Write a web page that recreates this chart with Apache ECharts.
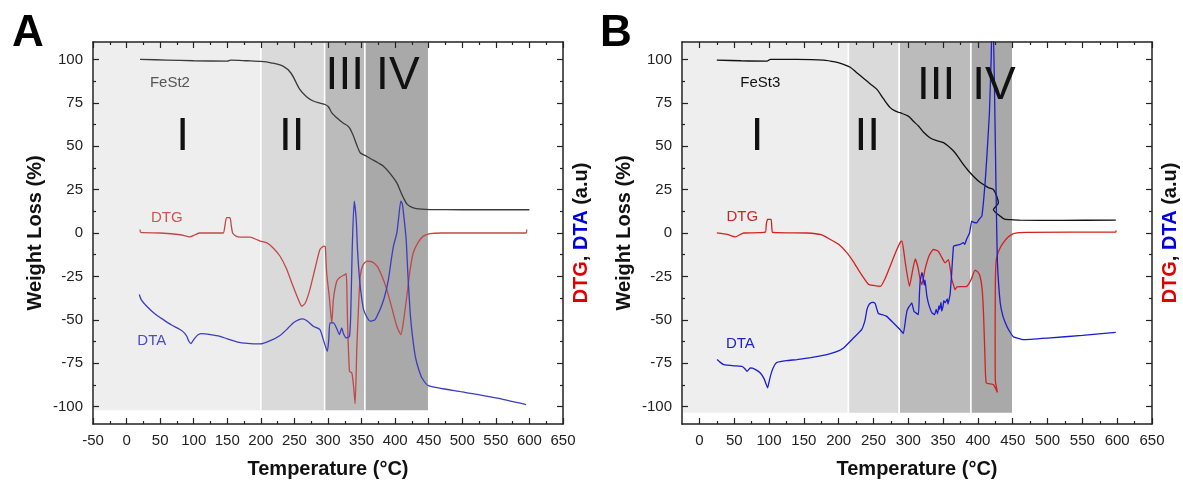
<!DOCTYPE html>
<html><head><meta charset="utf-8">
<script src="https://cdn.jsdelivr.net/npm/echarts@6/dist/echarts.min.js"></script>
<style>html,body{margin:0;padding:0;background:#fff}#c{width:1183px;height:482px}</style>
</head><body><div id="c"></div>
<script>
const FONT = '"Liberation Sans", Arial, sans-serif';

// ---------- Panel A (FeSt2): [temperature °C, value] ----------
const fest2TG = [[20,100],[60,99.6],[100,99.2],[150,99],[155,99.6],[180,99.2],[200,98.8],[215,98],[233,96.1],[245,92],[258,82.7],[268,78.5],[278,76],[288,74.8],[295.7,74],[300.6,72.7],[306,69],[313,66.4],[322,63.5],[330,61.5],[333,60],[336,57.5],[338,55.8],[343,50.5],[348,46.2],[355,44.7],[365,42.5],[375,40.3],[382.6,38.5],[392,34.5],[402.5,28.9],[408,24],[412.4,20.3],[418,16.5],[427,14.5],[440,13.7],[452,13.5],[500,13.4],[600,13.4]];
const fest2DTG = [[20,2],[21,0.3],[50,0],[80,-1],[94.5,-2.2],[102,-1],[109,0],[130,0],[144,0],[146,3],[149,8.8],[154,8.8],[156,4],[158,0],[163,-1.8],[169,-2.4],[184,-2.4],[195,-4],[199,-4.7],[209,-5.7],[218,-8.5],[228.6,-13.4],[238,-20.5],[248,-30.7],[256,-38.5],[261,-42.2],[266,-40.5],[273,-32.6],[281,-20],[288,-9.5],[294,-7.6],[296,-8],[298,-23],[302,-37],[305.6,-51.8],[308,-38.3],[313,-27.8],[318,-25.5],[325.5,-23.9],[327,-23.3],[328,-30],[329,-49.9],[332,-79.6],[335.5,-80.6],[338,-88],[340.4,-98.3],[343,-65.2],[346,-38],[348,-24.9],[352,-18.5],[358,-16.2],[365,-16.5],[373,-19.1],[380,-24.5],[387.6,-32.6],[395,-43],[402.5,-53.7],[408.5,-58.5],[412,-52],[417.4,-36.4],[422,-22],[427,-11.4],[434,-5.5],[442,-1.8],[452,-0.3],[470,0],[595,0],[596,2]];
const fest2DTA = [[19,-35.4],[22,-38.5],[30,-42.2],[42,-46.5],[54.7,-49.9],[67,-53],[79.6,-55.6],[86,-57.5],[89.6,-59.5],[93,-62.5],[96,-63.7],[99,-62],[102,-60.4],[107,-58.5],[112,-57.9],[125,-58.5],[139,-59.5],[150,-61],[164,-62.7],[180,-63.6],[199,-63.9],[214,-62],[228.6,-59],[240,-55],[248,-51.8],[256,-50],[262.5,-49.5],[270,-51],[278,-53.7],[288,-55.6],[293,-61.4],[299,-68.1],[301,-62],[303,-51.8],[308,-51.8],[313,-55],[317,-58.5],[320.5,-54.6],[323,-57.9],[327,-60.4],[332,-59.5],[334,-45],[336,-10],[339,18.3],[342,7.8],[344,-10],[347,-26.8],[350,-37],[353,-44.1],[358,-48.5],[363,-50.8],[370,-49.9],[374,-47],[377.6,-44.1],[384,-37],[390,-26.8],[394,-16],[397.5,-7.6],[402.5,0.1],[405,8],[408.5,18.3],[410.5,17],[412.4,11.6],[416.4,-3.7],[419,-24],[422.4,-46],[426,-60],[430,-71],[435,-78.5],[440,-83.5],[449.6,-87.9],[500,-91.5],[550,-95],[595,-98.8]];
const stagesA = [[-50,200],[200,295],[295,355],[355,450]];
const stageBottomA = -102.5;

// ---------- Panel B (FeSt3) ----------
const fest3TG = [[25,99.6],[60,99.2],[97,99],[102,100],[140,100],[178,99.6],[195,98.5],[207,97.1],[216.6,95.5],[226,92.3],[236,89],[245,86],[255,82.7],[264,77.5],[274,72.2],[281,70.3],[288,69.3],[300,67.3],[307,64.5],[314.6,61.6],[322,58],[331,54.9],[340,53.3],[350.5,52],[358,49.8],[365,47.2],[372,43.5],[379,39.5],[386,36],[393.5,32.7],[402,29.5],[410,27.4],[416,26],[422,25.1],[427,21.2],[429.4,17.4],[422.3,13.5],[432,9.7],[438,8],[446,7.7],[460,7.4],[520,7.3],[598,7.4]];
const fest3DTG = [[25,0.1],[40,-0.8],[51.6,-2.2],[58,-1],[63.6,0],[94.7,0.5],[96,5],[98,7.8],[103,7.8],[104,3],[105,0.3],[130,0.1],[154.5,0],[175,-1],[188,-3.7],[200,-6.5],[212,-11.4],[222,-17],[231,-22.9],[243,-29.7],[250,-30.2],[260,-30.7],[267,-26],[274,-19.1],[282,-11],[289,-5],[291,-4.7],[296,-18],[301.7,-30.7],[306,-22],[310,-14.9],[314,-20],[317,-26.8],[319.5,-29.7],[324,-21],[330,-13],[336,-9.5],[343,-10.5],[348,-14],[353,-17.2],[357.7,-15.3],[360,-20],[362.5,-26.8],[365,-30],[367,-32.6],[370,-31],[384,-30.7],[390,-27],[396,-21.4],[400,-22.5],[403,-24.9],[406,-32],[408,-46],[410,-70],[412,-86.3],[422,-87.3],[428,-91.8],[425,-85],[424.7,-60],[425,-30],[426,-17],[428,-12.5],[432,-8.5],[436.6,-5.6],[443,-2.5],[451,-0.3],[470,0.4],[598,0.5],[598.5,1.5]];
const fest3DTA = [[25.4,-72.9],[30,-74.5],[35,-75.8],[50,-76.5],[61,-76.8],[65,-78],[68.4,-79.7],[73,-77.7],[80,-78.5],[87.5,-80.6],[93,-84],[98,-89.2],[101,-84],[104,-79.7],[108,-76],[111.5,-74.5],[125,-73.5],[140,-72.9],[160,-71.8],[183,-70],[196,-68.5],[207,-66.2],[220,-61],[233,-55.6],[238,-50],[240.6,-44.1],[244,-41],[247.8,-39.9],[250,-40],[252.5,-40.6],[255,-44],[257,-46.4],[262,-47],[269,-48],[278,-51.5],[288,-55.6],[293,-57.9],[296,-50],[298,-45],[300,-43.1],[302,-42],[305,-40.2],[308,-45],[311,-46],[314.6,-47],[316,-35],[317,-28],[319.5,-22.9],[321,-25],[323,-30],[324,-27],[326.7,-36.4],[330,-42],[334,-46],[338,-47],[340,-44],[342,-46.5],[344,-42],[345,-44],[347,-40],[348,-45],[350,-42],[351,-39],[353,-40.2],[356,-38],[357,-41],[360,-35.4],[362,-25],[365,-7.6],[370,-7],[374.5,-6.6],[379,-5.5],[381,-6.5],[384,-3.3],[388,0],[391,6.8],[395,6],[398.4,5.9],[402,8],[405.6,9.7],[408,18],[410.3,28.9],[413,45],[416.5,69.3],[419,100],[420,118],[422,118],[423.5,90],[424.7,59.7],[426,25],[427,2],[428,-17.2],[432,-40.2],[436,-48],[441.5,-53.7],[446,-57],[451,-59.8],[465,-61.4],[500,-60.5],[550,-59],[598,-57.2]];
const stagesB = [[-25,214],[214,287],[287,390],[390,450]];
const stageBottomB = -104;

// ---------- Axes ----------
const xMajorA = [-50,0,50,100,150,200,250,300,350,400,450,500,550,600,650];
const xMinorA = [-25,25,75,125,175,225,275,325,375,425,475,525,575,625];
const xMajorB = [0,50,100,150,200,250,300,350,400,450,500,550,600,650];
const xMinorB = [25,75,125,175,225,275,325,375,425,475,525,575,625];
const yMajor = [-100,-75,-50,-25,0,25,50,75,100];
const yMinor = [-87.5,-62.5,-37.5,-12.5,12.5,37.5,62.5,87.5];
const stageNames = ['I','II','III','IV'];
const stageColors = ['#eeeeee','#dadada','#bbbbbb','#a9a9a9'];

const grids = [
  {left:93, top:42, width:470, height:382},
  {left:682, top:42, width:470, height:382}
];
const axisCol = '#222';
function xAxes(g, min, max, majors, minors){
  const base = {gridIndex:g, type:'value', min:min, max:max, z:10, splitLine:{show:false}};
  return [
    Object.assign({}, base, {position:'bottom', axisLine:{show:true,onZero:false,lineStyle:{color:axisCol,width:1.5}},
      axisTick:{show:true,inside:true,length:6,lineStyle:{color:axisCol,width:1.2},customValues:majors},
      axisLabel:{show:true,customValues:majors,fontSize:15,color:'#222',fontFamily:FONT,margin:9}}),
    Object.assign({}, base, {position:'bottom', axisLine:{show:false,onZero:false},
      axisTick:{show:true,inside:true,length:3,lineStyle:{color:axisCol,width:1.2},customValues:minors}, axisLabel:{show:false}}),
    Object.assign({}, base, {position:'top', axisLine:{show:true,onZero:false,lineStyle:{color:axisCol,width:1.5}},
      axisTick:{show:true,inside:true,length:6,lineStyle:{color:axisCol,width:1.2},customValues:majors}, axisLabel:{show:false}}),
    Object.assign({}, base, {position:'top', axisLine:{show:false,onZero:false},
      axisTick:{show:true,inside:true,length:3,lineStyle:{color:axisCol,width:1.2},customValues:minors}, axisLabel:{show:false}})
  ];
}
function yAxes(g){
  const base = {gridIndex:g, type:'value', min:-110, max:110, z:10, splitLine:{show:false}};
  return [
    Object.assign({}, base, {position:'left', axisLine:{show:true,onZero:false,lineStyle:{color:axisCol,width:1.5}},
      axisTick:{show:true,inside:true,length:6,lineStyle:{color:axisCol,width:1.2},customValues:yMajor},
      axisLabel:{show:true,customValues:yMajor,fontSize:15,color:'#222',fontFamily:FONT,margin:10}}),
    Object.assign({}, base, {position:'left', axisLine:{show:false,onZero:false},
      axisTick:{show:true,inside:true,length:3,lineStyle:{color:axisCol,width:1.2},customValues:yMinor}, axisLabel:{show:false}}),
    Object.assign({}, base, {position:'right', axisLine:{show:true,onZero:false,lineStyle:{color:axisCol,width:1.5}},
      axisTick:{show:true,inside:true,length:6,lineStyle:{color:axisCol,width:1.2},customValues:yMajor}, axisLabel:{show:false}}),
    Object.assign({}, base, {position:'right', axisLine:{show:false,onZero:false},
      axisTick:{show:true,inside:true,length:3,lineStyle:{color:axisCol,width:1.2},customValues:yMinor}, axisLabel:{show:false}})
  ];
}

function stageSeries(axisIdx, stages, bottom){
  return {
    type:'line', xAxisIndex:axisIdx, yAxisIndex:axisIdx, data:[], z:1, silent:true,
    markArea:{silent:true, data: stages.map((s,i)=>[
      {xAxis:s[0], yAxis:bottom, itemStyle:{color:stageColors[i], borderColor:'#ffffff', borderWidth:1.5}},
      {xAxis:s[1], yAxis:110}
    ])}
  };
}
function lineSeries(axisIdx, data, color, width, smooth){
  return {type:'line', xAxisIndex:axisIdx, yAxisIndex:axisIdx, data:data, showSymbol:false, symbol:'none',
    smooth:smooth, z:5, clip:true, lineStyle:{color:color, width:width}};
}

const chart = echarts.init(document.getElementById('c'));
chart.setOption({
  animation:false,
  backgroundColor:'#ffffff',
  textStyle:{fontFamily:FONT},
  grid: grids,
  xAxis: xAxes(0,-50,650,xMajorA,xMinorA).concat(xAxes(1,-25,650,xMajorB,xMinorB)),
  yAxis: yAxes(0).concat(yAxes(1)),
  series: [
    stageSeries(0, stagesA, stageBottomA),
    lineSeries(0, fest2TG, '#3a3a3a', 1.3, 0.3),
    lineSeries(0, fest2DTG, '#c04848', 1.3, 0.2),
    lineSeries(0, fest2DTA, '#3c3cc0', 1.3, 0.2),
    stageSeries(4, stagesB, stageBottomB),
    lineSeries(4, fest3TG, '#111111', 1.3, 0.3),
    lineSeries(4, fest3DTG, '#d42020', 1.3, 0.15),
    lineSeries(4, fest3DTA, '#1c1cd0', 1.3, 0.1)
  ]
});

// ---------- Text annotations (anchored in data coordinates) ----------
const stageLabelAtA = [[83.6,55],[246,55],[325,90.2],[404,90.2]];
const stageLabelAtB = [[83,55],[241,55],[340,84.4],[423,84.4]];
const curveLabelsA = [['FeSt2',[64.6,86.7],'#555555'],['DTG',[60,8.6],'#cc5555'],['DTA',[37.6,-62.4],'#4c4cc8']];
const curveLabelsB = [['FeSt3',[87.5,86.7],'#111111'],['DTG',[61.7,9.5],'#c62828'],['DTA',[58.8,-63.7],'#2222cc']];

const gfx = [];
function px(g, pt){ return chart.convertToPixel({gridIndex:g}, pt); }
function addText(x, y, text, font, color, rot){
  gfx.push({type:'text', x:x, y:y, rotation:rot||0, z:100, silent:true,
    style:{text:text, font:font, fill:color, align:'center', verticalAlign:'middle'}});
}
[[0,stageLabelAtA,curveLabelsA],[1,stageLabelAtB,curveLabelsB]].forEach(([g,st,cl])=>{
  st.forEach((p,i)=>{ const q=px(g,p); addText(q[0],q[1],stageNames[i],'normal 46px '+FONT,'#111111'); });
  cl.forEach(c=>{ const q=px(g,c[1]); addText(q[0],q[1],c[0],'normal 15px '+FONT,c[2]); });
});
grids.forEach((gr,i)=>{
  const cx = gr.left + gr.width/2, cy = gr.top + gr.height/2;
  addText(cx, 469, 'Temperature (°C)', 'bold 20px '+FONT, '#111111');
  addText(gr.left - 58, cy, 'Weight Loss (%)', 'bold 20px '+FONT, '#111111', Math.PI/2);
  gfx.push({type:'text', x:gr.left+gr.width+18, y:cy, rotation:Math.PI/2, z:100, silent:true,
    style:{text:'{r|DTG}, {b|DTA} (a.u)', font:'bold 20px '+FONT, fill:'#111111', align:'center', verticalAlign:'middle',
      rich:{r:{fill:'#e00000', font:'bold 20px '+FONT}, b:{fill:'#0000dd', font:'bold 20px '+FONT}}}});
});
addText(28, 34, 'A', 'bold 44px '+FONT, '#000000');
addText(616, 34, 'B', 'bold 44px '+FONT, '#000000');
chart.setOption({graphic: gfx});
</script>
</body></html>
